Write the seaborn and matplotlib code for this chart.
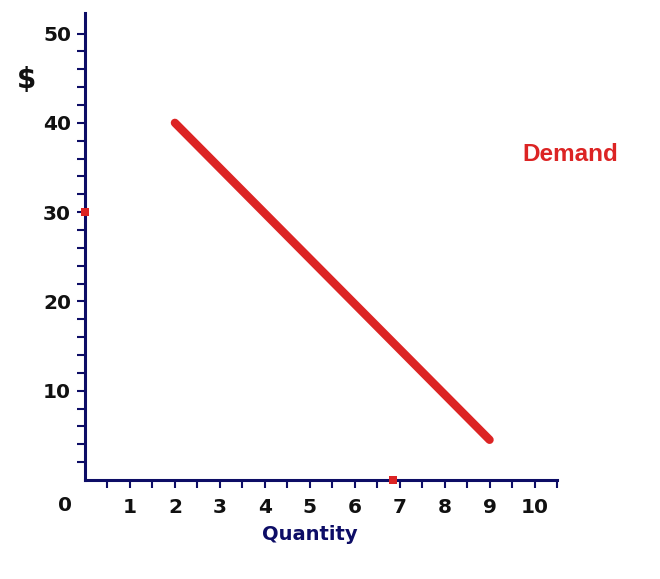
import numpy as np
import pandas as pd
import matplotlib
matplotlib.use("Agg")
import matplotlib.pyplot as plt
import matplotlib.transforms as mtransforms
import seaborn as sns

# demand curve
quantity = [2, 9]
price = [40, 4.5]

# small red marks on the axes
mark_q = [0, 6.85]
mark_p = [30, 0]

x_major = list(range(1, 11))
x_minor = [i + 0.5 for i in range(0, 11)]
y_major = [10, 20, 30, 40, 50]
y_minor = [v for v in range(2, 50, 2) if v % 10 != 0]

NAVY = "#0d0d66"
RED = "#dc2424"

sns.set_theme(style="ticks")
plt.rcParams["font.family"] = ["DejaVu Sans"]

fig = plt.figure(figsize=(6.6, 5.79), dpi=100)
ax = fig.add_axes([85 / 660, 99 / 579, 472 / 660, 467 / 579])

df = pd.DataFrame({"Quantity": quantity, "Price": price})
sns.lineplot(data=df, x="Quantity", y="Price", ax=ax, color=RED,
             linewidth=6, solid_capstyle="round")

marks = pd.DataFrame({"q": mark_q, "p": mark_p})
sns.scatterplot(data=marks, x="q", y="p", ax=ax, color=RED, marker="s",
                s=28, linewidth=0, clip_on=False, zorder=5)

ax.set_xlim(0, 10.5)
ax.set_ylim(0, 52.3)

for s in ["top", "right"]:
    ax.spines[s].set_visible(False)
for s in ["left", "bottom"]:
    ax.spines[s].set_color(NAVY)
    ax.spines[s].set_linewidth(2.2)

ax.set_xticks(x_major)
ax.set_xticks(x_minor, minor=True)
ax.set_yticks(y_major)
ax.set_yticks(y_minor, minor=True)
ax.tick_params(axis="both", which="both", direction="out", length=6,
               width=1.5, color=NAVY, labelcolor="#111111",
               bottom=True, left=True, top=False, right=False)
ax.tick_params(axis="x", which="major", pad=7, labelsize=14.5)
ax.tick_params(axis="y", which="major", pad=4, labelsize=14.5)
for lab in ax.get_xticklabels() + ax.get_yticklabels():
    lab.set_fontweight("bold")

ax.set_xlabel("")
ax.set_ylabel("")

# shared "0" at the corner
trans = mtransforms.blended_transform_factory(ax.transData, ax.transAxes)
ax.text(-0.45, -0.055, "0", transform=trans, ha="center", va="center",
        fontsize=14.5, fontweight="bold", color="#111111")

ax.text(-1.3, 44.8, "$", ha="center", va="center", fontsize=20,
        fontweight="bold", color="#111111")
ax.text(5.0, -6.1, "Quantity", ha="center", va="center", fontsize=14,
        fontweight="bold", color=NAVY)
ax.text(10.8, 36.5, "Demand", ha="center", va="center", fontsize=17.5,
        fontweight="bold", color=RED, family=["Liberation Sans", "DejaVu Sans"])

fig.savefig("out.png", dpi=100)
